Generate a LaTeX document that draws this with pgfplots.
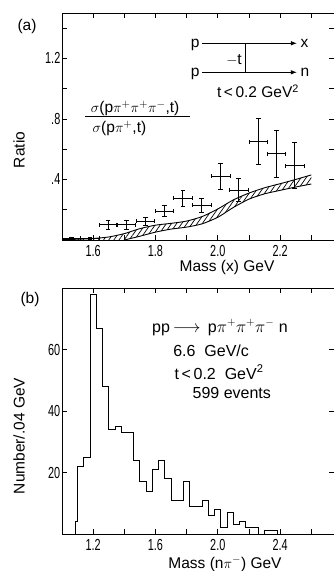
\documentclass[border=0pt]{standalone}
\usepackage{fontspec}
\setmainfont{Liberation Sans}
\newfontfamily\cnd{Liberation Sans}[FakeStretch=0.68]
\usepackage{pgfplots}
\usepackage{pgfplotstable}
\pgfplotsset{compat=1.18}
\usetikzlibrary{patterns.meta,arrows.meta}
\newcommand{\tx}{\fontsize{15.5bp}{17bp}\selectfont}
\newcommand{\tb}{\fontsize{16bp}{18bp}\selectfont}
\pgfplotstableread{
x      y      ex     ey
1.530  0.008  0.030  0.006
1.590  0.010  0.030  0.006
1.648  0.100  0.028  0.028
1.707  0.100  0.030  0.030
1.768  0.125  0.030  0.027
1.829  0.190  0.030  0.037
1.888  0.275  0.030  0.055
1.948  0.230  0.030  0.048
2.009  0.420  0.030  0.085
2.067  0.330  0.030  0.074
2.130  0.650  0.030  0.152
2.188  0.570  0.030  0.155
2.247  0.490  0.030  0.152
}\ratiodata
\begin{document}
\begin{tikzpicture}
\path[use as bounding box] (0,0) rectangle (334bp,571bp);
\pgfplotsset{
  every axis/.append style={
    scale only axis,
    axis line style={line width=0.9bp},
    every tick/.style={black, line width=0.8bp},
    major tick length=5bp,
    tick align=inside,
    tick label style={font=\cnd\fontsize{16bp}{16bp}\selectfont, inner sep=1.5bp},
    xticklabel style={yshift=-3.5bp},
  }
}
% ---------------- panel (a) ----------------
\begin{axis}[at={(62bp,331bp)}, anchor=south west,
  width=272bp, height=227bp,
  xmin=1.5, xmax=2.373, ymin=0, ymax=1.5,
  xtick={1.5,1.6,1.7,1.8,1.9,2.0,2.1,2.2,2.3},
  xticklabels={,1.6,,1.8,,2.0,,2.2,},
  ytick={0.2,0.4,0.6,0.8,1.0,1.2,1.4},
  yticklabels={,.4,,.8,,1.2,},
  clip=false]
  % hatched band
  \addplot[draw=none, pattern={Lines[angle=55,distance=4.2bp,line width=0.7bp]}] coordinates {
    (1.50,0.003) (1.55,0.005) (1.60,0.010) (1.65,0.020) (1.70,0.042) (1.75,0.075)
    (1.80,0.098) (1.85,0.110) (1.90,0.125) (1.95,0.155) (2.00,0.205) (2.05,0.265)
    (2.10,0.310) (2.15,0.345) (2.20,0.372) (2.25,0.400) (2.30,0.430)
    (2.30,0.370) (2.25,0.350) (2.20,0.328) (2.15,0.305) (2.10,0.270) (2.05,0.215)
    (2.00,0.150) (1.95,0.107) (1.90,0.085) (1.85,0.072) (1.80,0.052) (1.75,0.025)
    (1.70,0.000) (1.60,0.000) (1.50,0.000)} -- cycle;
  \addplot[black, line width=0.9bp, smooth, tension=0.4] coordinates {
    (1.50,0.003) (1.55,0.005) (1.60,0.010) (1.65,0.020) (1.70,0.042) (1.75,0.075)
    (1.80,0.098) (1.85,0.110) (1.90,0.125) (1.95,0.155) (2.00,0.205) (2.05,0.265)
    (2.10,0.310) (2.15,0.345) (2.20,0.372) (2.25,0.400) (2.30,0.430)};
  \addplot[black, line width=0.9bp, smooth, tension=0.4] coordinates {
    (1.70,0.000) (1.75,0.025) (1.80,0.052) (1.85,0.072) (1.90,0.085) (1.95,0.107)
    (2.00,0.150) (2.05,0.215) (2.10,0.270) (2.15,0.305) (2.20,0.328) (2.25,0.350) (2.30,0.370)};
  % data with error bars
  \addplot[black, only marks, mark=*, mark size=0.1bp,
    error bars/.cd, x dir=both, x explicit, y dir=both, y explicit,
    error mark=none,
    error bar style={black, line width=0.8bp}]
    table[x=x, y=y, x error=ex, y error=ey] {\ratiodata};
  % caps at the ends of the bars
  \addplot[black, only marks, mark=-, mark size=2.3bp, mark options={line width=0.8bp}]
    table[x=x, y expr=\thisrow{y}+\thisrow{ey}] {\ratiodata};
  \addplot[black, only marks, mark=-, mark size=2.3bp, mark options={line width=0.8bp}]
    table[x=x, y expr=\thisrow{y}-\thisrow{ey}] {\ratiodata};
  \addplot[black, only marks, mark=|, mark size=2bp, mark options={line width=0.8bp}]
    table[x expr=\thisrow{x}+\thisrow{ex}, y=y] {\ratiodata};
  \addplot[black, only marks, mark=|, mark size=2bp, mark options={line width=0.8bp}]
    table[x expr=\thisrow{x}-\thisrow{ex}, y=y] {\ratiodata};
  % fraction label
  \node[anchor=west, font=\tx, inner sep=0] at (axis cs:1.592,0.872) {$\sigma$(p$\pi^+\pi^+\pi^-$,t)};
  \draw[line width=0.8bp] (axis cs:1.574,0.82) -- (axis cs:1.911,0.82);
  \node[anchor=west, font=\tx, inner sep=0] at (axis cs:1.598,0.735) {$\sigma$(p$\pi^+$,t)};
  % diagram
  \node[anchor=base east, font=\tx, inner sep=1bp] at (axis cs:1.945,1.275) {p};
  \draw[line width=0.9bp, -{Latex[length=6bp,width=4.5bp]}] (axis cs:1.949,1.30) -- (axis cs:2.254,1.30);
  \node[anchor=base west, font=\tx, inner sep=1bp] at (axis cs:2.262,1.275) {x};
  \node[anchor=base east, font=\tx, inner sep=1bp] at (axis cs:1.945,1.083) {p};
  \draw[line width=0.9bp, -{Latex[length=6bp,width=4.5bp]}] (axis cs:1.949,1.108) -- (axis cs:2.254,1.108);
  \node[anchor=base west, font=\tx, inner sep=1bp] at (axis cs:2.262,1.083) {n};
  \draw[line width=0.9bp] (axis cs:2.09,1.30) -- (axis cs:2.09,1.108);
  \node[font=\tx, inner sep=0] at (axis cs:2.052,1.19) {$-$t};
  \node[font=\tx, inner sep=0] at (axis cs:2.129,0.985) {t\,<\,0.2 GeV\textsuperscript{2}};
\end{axis}
% ---------------- panel (b) ----------------
\begin{axis}[at={(62bp,37bp)}, anchor=south west,
  width=272bp, height=246bp,
  xmin=1.0, xmax=2.746, ymin=0, ymax=80,
  xtick={1.2,1.4,1.6,1.8,2.0,2.2,2.4,2.6},
  xticklabels={1.2,,1.6,,2.0,,2.4,},
  ytick={20,40,60},
  yticklabels={20,40,60},
  clip=false]
  \addplot[black, line width=0.9bp, const plot, mark=none] coordinates {
    (1.086,0) (1.086,4) (1.10,22) (1.14,25) (1.18,78) (1.22,67) (1.26,48) (1.30,34)
    (1.34,35) (1.38,33) (1.42,33) (1.46,24) (1.50,17) (1.54,14) (1.58,21) (1.62,24)
    (1.66,18) (1.70,11) (1.74,11) (1.78,17) (1.82,9) (1.86,9) (1.90,11) (1.94,6)
    (1.98,8) (2.02,2) (2.06,7) (2.10,3) (2.14,4) (2.18,2) (2.22,2) (2.26,0)
    (2.30,1) (2.34,1) (2.38,0)};
  \node[font=\tb, inner sep=0] at (axis cs:2.014,67.2) {pp$\,\longrightarrow\,$ p$\pi^+\pi^+\pi^-$ n};
  \node[font=\tb, inner sep=0] at (axis cs:1.957,59.7) {6.6 \ GeV/c};
  \node[font=\tb, inner sep=0] at (axis cs:2.008,52.6) {t\,<\,0.2 \ GeV\textsuperscript{2}};
  \node[font=\tb, inner sep=0] at (axis cs:2.09,45.8) {599 events};
\end{axis}
% ---------------- outer labels ----------------
\node[font=\tx] at (27bp,545bp) {(a)};
\node[font=\tx] at (30bp,272bp) {(b)};
\node[font=\tx, rotate=90] at (19bp,421bp) {Ratio};
\node[font=\tx, rotate=90] at (19bp,135bp) {Number/.04 GeV};
\node[font=\tx, anchor=base] at (227bp,299bp) {Mass (x) GeV};
\node[font=\tx, anchor=base] at (225bp,3bp) {Mass (n$\pi^-$) GeV};
\end{tikzpicture}
\end{document}
